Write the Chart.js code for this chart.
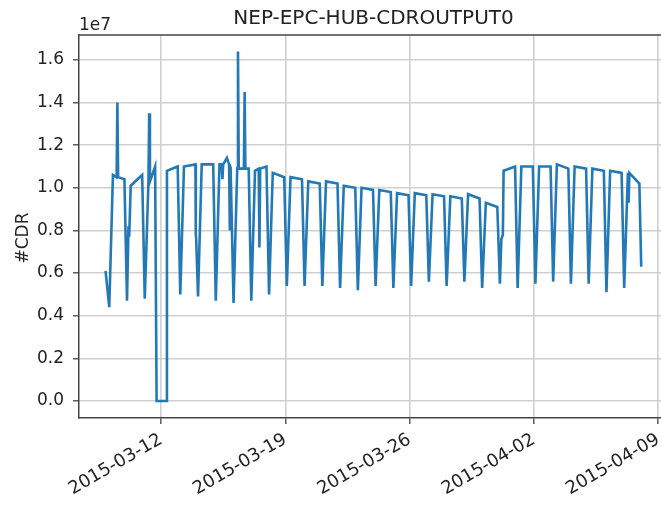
<!DOCTYPE html>
<html>
<head>
<meta charset="utf-8">
<script src="https://cdn.jsdelivr.net/npm/chart.js@4.4.1/dist/chart.umd.min.js"></script>
<style>
  html, body { margin: 0; padding: 0; background: #fff; overflow: hidden; }
  #wrap { width: 661px; height: 510px; overflow: hidden; }
</style>
</head>
<body>
<div id="wrap"><canvas id="myChart" width="668" height="510"></canvas></div>
<script>
let titleText = "NEP-EPC-HUB-CDROUTPUT0";

// one entry per day, values in units of 1e7
// nightLow: the overnight minimum (~02:00)
// morningHigh: level once the morning ramp is done (~07:00)
// eveningHigh: level just before the evening drop (~22:30)
let days = ['2015-03-09', '2015-03-10', '2015-03-11', '2015-03-12', '2015-03-13',
            '2015-03-14', '2015-03-15', '2015-03-16', '2015-03-17', '2015-03-18',
            '2015-03-19', '2015-03-20', '2015-03-21', '2015-03-22', '2015-03-23',
            '2015-03-24', '2015-03-25', '2015-03-26', '2015-03-27', '2015-03-28',
            '2015-03-29', '2015-03-30', '2015-03-31', '2015-04-01', '2015-04-02',
            '2015-04-03', '2015-04-04', '2015-04-05', '2015-04-06', '2015-04-07'];
let nightLow = [0.44, 0.47, 0.48, null, 0.50, 0.49, 0.47, 0.46, 0.47, 0.50,
                0.54, 0.54, 0.54, 0.53, 0.52, 0.54, 0.53, 0.54, 0.56, 0.54,
                0.56, 0.53, 0.55, 0.53, 0.55, 0.56, 0.55, 0.55, 0.51, 0.53];
let morningHigh = [1.06, 1.01, 1.03, null, 1.10, 1.11, 1.11, 1.09, 1.08, 1.07,
                   1.05, 1.03, 1.03, 1.01, 1.00, 0.99, 0.975, 0.975, 0.97, 0.96,
                   0.97, 0.93, 1.08, 1.10, 1.10, 1.11, 1.10, 1.09, 1.08, 1.07];
let eveningHigh = [1.04, 1.06, null, 1.10, 1.11, 1.11, 1.10, 1.09, 1.10, 1.05,
                   1.04, 1.02, 1.02, 1.00, 0.99, 0.98, 0.965, 0.965, 0.96, 0.95,
                   0.95, 0.91, 1.10, 1.10, 1.10, 1.09, 1.09, 1.08, 1.07, 1.02];

// hours that break the daily pattern: spikes, dips, the outage, first and last sample
let extraTimes = ['2015-03-08 21:00',
                  '2015-03-09 12:00', '2015-03-09 13:00', '2015-03-09 14:00',
                  '2015-03-10 04:00', '2015-03-10 05:00',
                  '2015-03-11 08:00', '2015-03-11 09:00', '2015-03-11 16:00', '2015-03-11 17:00',
                  '2015-03-11 18:00', '2015-03-12 07:00', '2015-03-12 08:00',
                  '2015-03-13 23:00', '2015-03-13 23:30',
                  '2015-03-15 10:00', '2015-03-15 11:00', '2015-03-15 12:00', '2015-03-15 17:00',
                  '2015-03-15 20:00', '2015-03-15 21:00', '2015-03-15 22:00',
                  '2015-03-16 08:00', '2015-03-16 09:00', '2015-03-16 16:00', '2015-03-16 17:00',
                  '2015-03-16 18:00',
                  '2015-03-17 12:00', '2015-03-17 13:00', '2015-03-17 14:00',
                  '2015-03-31 04:00', '2015-03-31 06:00',
                  '2015-04-07 08:00', '2015-04-07 09:00',
                  '2015-04-08 01:00'];
let extraValues = [0.61,
                   1.05, 1.40, 1.05,
                   0.82, 0.77,
                   1.35, 1.03, 1.10, 1.10,
                   0.00, 0.00, 1.08,
                   0.78, 0.76,
                   1.11, 1.04, 1.11, 1.14,
                   1.11, 0.80, 1.10,
                   1.64, 1.09, 1.09, 1.45,
                   1.09,
                   1.09, 0.72, 1.09,
                   0.76, 0.78,
                   0.93, 1.07,
                   0.63];

let tickDates = ['2015-03-12', '2015-03-19', '2015-03-26', '2015-04-02', '2015-04-09'];
let yTicks = [0.0, 0.2, 0.4, 0.6, 0.8, 1.0, 1.2, 1.4, 1.6];

let ctx = document.getElementById('myChart');
let font = '"DejaVu Sans", sans-serif';

// x values are days counted from 2015-03-12 00:00
function toDays(s) {
    let parts = s.split(' ');
    let d = parts[0].split('-').map(Number);
    let t = (parts[1] || '00:00').split(':').map(Number);
    return (Date.UTC(d[0], d[1] - 1, d[2], t[0], t[1]) - Date.UTC(2015, 2, 12)) / 864e5;
}

function dayLabel(v) {
    return new Date(Date.UTC(2015, 2, 12) + Math.round(v * 864e5)).toISOString().slice(0, 10);
}

function buildPoints() {
    let pts = [];
    for (let i = 0; i < days.length; i++) {
        let d = toDays(days[i]);
        if (nightLow[i] !== null) pts.push({x: d + 2 / 24, y: nightLow[i]});
        if (morningHigh[i] !== null) pts.push({x: d + 7 / 24, y: morningHigh[i]});
        if (eveningHigh[i] !== null) pts.push({x: d + 22.5 / 24, y: eveningHigh[i]});
    }
    for (let i = 0; i < extraTimes.length; i++) {
        pts.push({x: toDays(extraTimes[i]), y: extraValues[i]});
    }
    pts.sort((a, b) => a.x - b.x);
    return pts;
}

const frame = {
    id: 'frame',
    afterDraw(chart) {
        const c = chart.ctx;
        const a = chart.chartArea;
        c.save();
        c.strokeStyle = '#444';
        c.lineWidth = 1.5;
        c.beginPath();
        c.moveTo(a.left, a.top);
        c.lineTo(a.right, a.top);
        c.stroke();

        c.fillStyle = '#222';
        c.font = '20px ' + font;
        c.textAlign = 'center';
        c.textBaseline = 'alphabetic';
        c.fillText(titleText, (a.left + a.right) / 2, 24);

        c.font = '17px ' + font;
        c.textAlign = 'left';
        c.fillText('1e7', a.left, 30);

        c.translate(28, 238);
        c.rotate(-Math.PI / 2);
        c.textAlign = 'center';
        c.fillText('#CDR', 0, 0);
        c.restore();
    }
};

makeChart();

function makeChart() {
    new Chart(ctx, {
        type: 'line',
        data: {
            datasets: [{
                data: buildPoints(),
                borderColor: '#2379b6',
                borderWidth: 2.6,
                pointRadius: 0,
                tension: 0,
                fill: false
            }]
        },
        options: {
            responsive: false,
            animation: false,
            layout: { padding: { top: 35, left: 0, right: 0, bottom: 0 } },
            plugins: { legend: { display: false }, tooltip: { enabled: false } },
            scales: {
                x: {
                    type: 'linear',
                    min: -4.62,
                    max: 28.55,
                    afterBuildTicks: (s) => { s.ticks = tickDates.map(d => ({value: toDays(d)})); },
                    afterFit: (s) => { s.height = 92; s.paddingLeft = 0; s.paddingRight = 0; },
                    grid: { color: '#d0d0d0', lineWidth: 1.6, tickLength: 6, tickColor: '#444', tickWidth: 1.3 },
                    border: { color: '#444', width: 1.5 },
                    ticks: {
                        minRotation: 30, maxRotation: 30, padding: 5,
                        color: '#222', font: { family: font, size: 18 },
                        callback: (v) => dayLabel(v)
                    }
                },
                y: {
                    min: -0.08,
                    max: 1.717,
                    afterBuildTicks: (s) => { s.ticks = yTicks.map(v => ({value: v})); },
                    afterFit: (s) => { s.width = 79; },
                    grid: { color: '#d0d0d0', lineWidth: 1.6, tickLength: 6, tickColor: '#444', tickWidth: 1.3 },
                    border: { color: '#444', width: 1.5 },
                    ticks: {
                        padding: 9, color: '#222', font: { family: font, size: 17 },
                        callback: (v) => v.toFixed(1)
                    }
                }
            }
        },
        plugins: [frame]
    });
}
</script>
</body>
</html>
